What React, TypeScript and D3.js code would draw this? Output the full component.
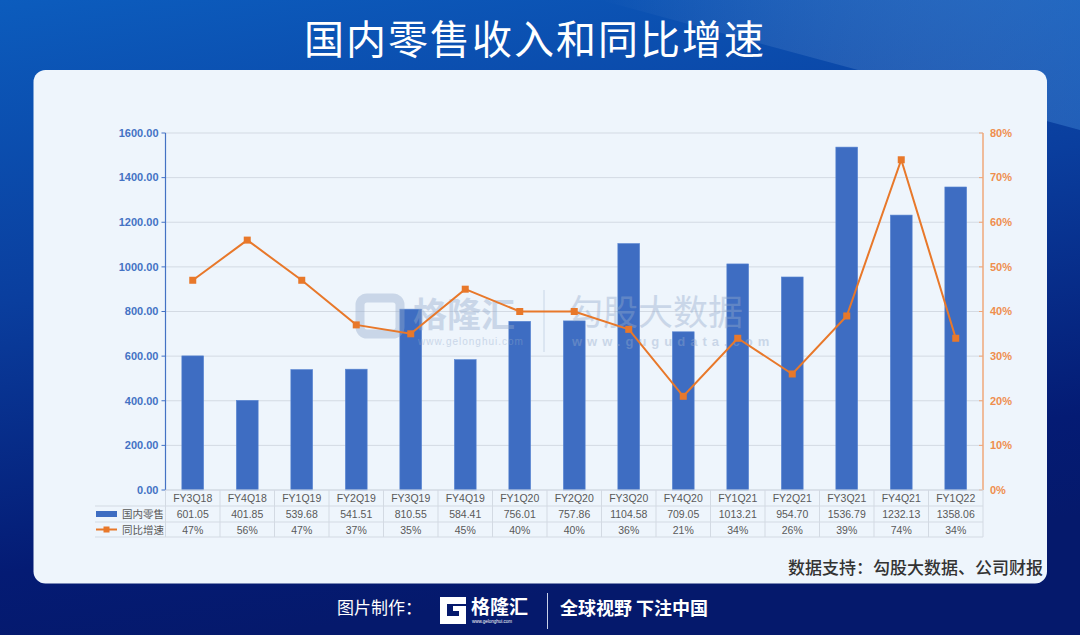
import React from "react";
import * as d3 from "d3";

// data
const quarters = ["FY3Q18", "FY4Q18", "FY1Q19", "FY2Q19", "FY3Q19", "FY4Q19", "FY1Q20", "FY2Q20", "FY3Q20", "FY4Q20", "FY1Q21", "FY2Q21", "FY3Q21", "FY4Q21", "FY1Q22"];
const retail = [601.05, 401.85, 539.68, 541.51, 810.55, 584.41, 756.01, 757.86, 1104.58, 709.05, 1013.21, 954.7, 1536.79, 1232.13, 1358.06];
const growth = [0.47, 0.56, 0.47, 0.37, 0.35, 0.45, 0.40, 0.40, 0.36, 0.21, 0.34, 0.26, 0.39, 0.74, 0.34];
const leftTicks = [0, 200, 400, 600, 800, 1000, 1200, 1400, 1600];
const rightTicks = [0, 0.1, 0.2, 0.3, 0.4, 0.5, 0.6, 0.7, 0.8];

const W = 1080;
const H = 635;
const plot = { left: 165.5, right: 983, top: 133, bottom: 490 };
const rowH = [16, 16, 15];

const BAR = "#3E6DC2";
const LINE = "#E8782A";
const CJK = "'Noto Sans CJK SC', sans-serif";
const LAT = "'Liberation Sans', Arial, sans-serif";

export default function App() {
  const x = d3.scaleBand<string>().domain(quarters).range([plot.left, plot.right]).paddingInner(0.6).paddingOuter(0.3);
  const step = x.step();
  const yL = d3.scaleLinear().domain([0, 1600]).range([plot.bottom, plot.top]);
  const yR = d3.scaleLinear().domain([0, 0.8]).range([plot.bottom, plot.top]);
  const cx = (q: string) => (x(q) as number) + x.bandwidth() / 2;

  const line = d3.line<number>()
    .x((_, i) => cx(quarters[i]))
    .y((d) => yR(d));

  const fmtL = d3.format(".2f");
  const fmtR = d3.format(".0%");

  const tTop = plot.bottom;
  const r1 = tTop + rowH[0];
  const r2 = r1 + rowH[1];
  const r3 = r2 + rowH[2];
  const tLeft = 95;
  const gridC = "#D3DAE3";

  return (
    <svg width={W} height={H} style={{ position: "absolute", left: 0, top: 0 }}>
      <defs>
        <linearGradient id="bg" x1="0" y1="0" x2="0.25" y2="1">
          <stop offset="0" stopColor="#0C5CBD" />
          <stop offset="0.45" stopColor="#0A3E9E" />
          <stop offset="0.85" stopColor="#041B74" />
          <stop offset="1" stopColor="#05196C" />
        </linearGradient>
        <linearGradient id="sheen" x1="0" y1="0" x2="1" y2="0">
          <stop offset="0" stopColor="#ffffff" stopOpacity="0" />
          <stop offset="1" stopColor="#5AA8F0" stopOpacity="0.3" />
        </linearGradient>
      </defs>
      <rect x={0} y={0} width={W} height={H} fill="url(#bg)" />
      <polygon points="600,0 1080,0 1080,130" fill="url(#sheen)" />

      <text x={535} y={54} textAnchor="middle" fill="#fff" fontFamily={CJK} fontSize={40} fontWeight={400} letterSpacing={2}>
        国内零售收入和同比增速
      </text>

      <rect x={33.5} y={70} width={1013.5} height={513.5} rx={12} fill="#EEF5FC" />

      {/* grid */}
      {leftTicks.map((t) => (
        <line key={t} x1={plot.left} x2={plot.right} y1={yL(t)} y2={yL(t)} stroke={gridC} strokeWidth={1} />
      ))}

      {/* bars */}
      {quarters.map((q, i) => (
        <rect key={q} x={x(q)} y={yL(retail[i])} width={x.bandwidth()} height={plot.bottom - yL(retail[i])} fill={BAR} stroke="#5A86D2" strokeWidth={0.6} />
      ))}

      {/* watermark, laid over the bars */}
      <g opacity={0.4} fill="#94AACB">
        <rect x={360} y={298} width={40} height={36} rx={7} fill="none" stroke="#94AACB" strokeWidth={9} />
        <text x={413} y={327} fontFamily={CJK} fontSize={34} fontWeight={700}>格隆汇</text>
        <text x={418} y={345} fontFamily={LAT} fontSize={10} letterSpacing={1}>www.gelonghui.com</text>
        <line x1={544} x2={544} y1={290} y2={352} stroke="#94AACB" strokeWidth={1} />
        <text x={568} y={325} fontFamily={CJK} fontSize={35}>勾股大数据</text>
        <text x={572} y={346} fontFamily={LAT} fontSize={13} fontWeight={700} letterSpacing={5}>www.gugudata.com</text>
      </g>

      {/* growth line */}
      <path d={line(growth) || ""} fill="none" stroke={LINE} strokeWidth={2} />
      {growth.map((g, i) => (
        <rect key={i} x={cx(quarters[i]) - 3.5} y={yR(g) - 3.5} width={7} height={7} fill={LINE} />
      ))}

      {/* left axis */}
      <line x1={plot.left} x2={plot.left} y1={plot.top} y2={plot.bottom} stroke="#4472C4" strokeWidth={1.2} />
      {leftTicks.map((t) => (
        <g key={t} transform={`translate(${plot.left},${yL(t)})`}>
          <line x1={-4} x2={0} stroke="#4472C4" />
          <text x={-7} dy="0.35em" textAnchor="end" fill="#4472C4" fontFamily={LAT} fontSize={11} fontWeight={700}>{fmtL(t)}</text>
        </g>
      ))}

      {/* right axis */}
      <line x1={plot.right} x2={plot.right} y1={plot.top} y2={plot.bottom} stroke="#EFA77A" strokeWidth={1.5} />
      {rightTicks.map((t) => (
        <g key={t} transform={`translate(${plot.right},${yR(t)})`}>
          <line x1={-4} x2={0} stroke="#EFA77A" />
          <text x={7} dy="0.35em" textAnchor="start" fill="#EE8E4E" fontFamily={LAT} fontSize={11} fontWeight={700}>{fmtR(t)}</text>
        </g>
      ))}

      {/* data table */}
      <g stroke={gridC} strokeWidth={1}>
        <line x1={plot.left} x2={plot.right} y1={tTop} y2={tTop} />
        <line x1={tLeft} x2={plot.right} y1={r1} y2={r1} />
        <line x1={tLeft} x2={plot.right} y1={r2} y2={r2} />
        <line x1={tLeft} x2={plot.right} y1={r3} y2={r3} />
        {quarters.map((q) => (
          <line key={q} x1={(x(q) as number) - step * 0.3} x2={(x(q) as number) - step * 0.3} y1={tTop} y2={r3} />
        ))}
        <line x1={plot.right} x2={plot.right} y1={tTop} y2={r3} />
      </g>
      <g fontFamily={LAT} fontSize={10.5} fill="#595959" textAnchor="middle">
        {quarters.map((q, i) => (
          <g key={q}>
            <text x={cx(q)} y={tTop + 12}>{q}</text>
            <text x={cx(q)} y={r1 + 12}>{fmtL(retail[i])}</text>
            <text x={cx(q)} y={r2 + 11.5}>{fmtR(growth[i])}</text>
          </g>
        ))}
      </g>
      <rect x={96} y={r1 + 5} width={21} height={6} fill={BAR} />
      <text x={122} y={r1 + 12} fontFamily={CJK} fontSize={10.5} fill="#595959">国内零售</text>
      <line x1={96} x2={117} y1={r2 + 7.5} y2={r2 + 7.5} stroke={LINE} strokeWidth={2} />
      <rect x={103.5} y={r2 + 4.5} width={6} height={6} fill={LINE} />
      <text x={122} y={r2 + 11.5} fontFamily={CJK} fontSize={10.5} fill="#595959">同比增速</text>

      <text x={1043} y={574} textAnchor="end" fontFamily={CJK} fontSize={17} fontWeight={500} fill="#333">
        数据支持：勾股大数据、公司财报
      </text>

      {/* footer */}
      <text x={337} y={614} fontFamily={CJK} fontSize={17} fill="#fff">图片制作：</text>
      <path d="M440,597 h26 v7 h-19 v12 h12 v-5 h-6 v-5 h13 v18 h-26 z" fill="#fff" />
      <text x={471} y={614} fontFamily={CJK} fontSize={19} fontWeight={700} fill="#fff">格隆汇</text>
      <text x={472} y={623} fontFamily={LAT} fontSize={4.5} fill="#fff">www.gelonghui.com</text>
      <line x1={547.5} x2={547.5} y1={593} y2={629} stroke="#C8D0E8" strokeWidth={1} />
      <text x={560} y={615} fontFamily={CJK} fontSize={18} fontWeight={700} fill="#fff">全球视野 下注中国</text>
    </svg>
  );
}
